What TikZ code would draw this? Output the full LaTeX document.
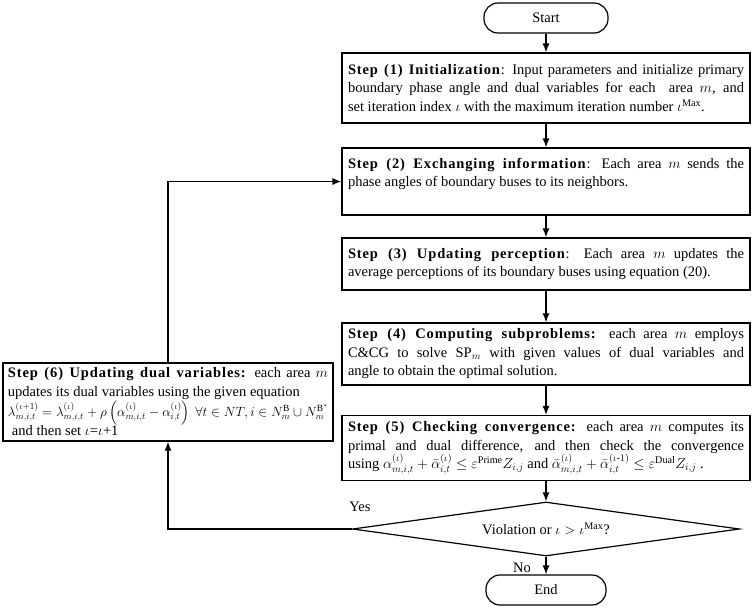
\documentclass[tikz,border=0pt]{standalone}
\usepackage{amsmath}
\usepackage{amssymb}
\usepackage{fontspec}
\setmainfont{Liberation Serif}[BoldFeatures={LetterSpace=6}]
\usetikzlibrary{shapes.geometric,arrows.meta}

\begin{document}
\begin{tikzpicture}[x=1pt,y=-1pt,
  font=\fontsize{14.5}{18.5}\selectfont,
  stepbox/.style={draw,line width=1.2pt,text width=396pt,align=justify,inner sep=6pt},
  termbox/.style={draw,line width=1.2pt,rounded corners=14pt,minimum width=124pt,minimum height=30pt},
  flow/.style={line width=1.2pt,-{Latex[length=9pt,width=7pt]}}]
\useasboundingbox (0,0) rectangle (754,607);

\node[termbox] (start) at (546,18) {Start};
\node[stepbox,minimum height=70pt] (s1) at (546,88)
  {\textbf{Step (1) Initialization}: Input parameters and initialize primary\linebreak
  boundary phase angle and dual variables for each \ area $m$, and\linebreak
  set iteration index $\iota$ with the maximum iteration number $\iota^{\mathrm{Max}}$.};
\node[stepbox,minimum height=67pt] (s2) at (546,181.5)
  {\textbf{Step (2) Exchanging information}: Each area $m$ sends the\linebreak
  phase angles of boundary buses to its neighbors.\\\mbox{}};
\node[stepbox,minimum height=52pt] (s3) at (546,264)
  {\textbf{Step (3) Updating perception}: Each area $m$ updates the\linebreak
  average perceptions of its boundary buses using equation (20).};
\node[stepbox,minimum height=60pt] (s4) at (546,354)
  {\textbf{Step (4) Computing subproblems:} each area $m$ employs\linebreak
  C\&CG to solve SP$_m$ with given values of dual variables and\linebreak
  angle to obtain the optimal solution.};
\node[stepbox,minimum height=63pt] (s5) at (546,448)
  {\textbf{Step (5) Checking convergence:} each area $m$ computes its\linebreak
  primal and dual difference, and then check the convergence\linebreak
  using $\alpha^{(\iota)}_{m,i,t}+\bar{\alpha}^{(\iota)}_{i,t}\le\varepsilon^{\mathrm{Prime}}Z_{i,j}$ and $\bar{\alpha}^{(\iota)}_{m,i,t}+\bar{\alpha}^{(\iota\text{-}1)}_{i,t}\le\varepsilon^{\mathrm{Dual}}Z_{i,j}$ .};
\node[draw,diamond,aspect=7.2,line width=1.2pt,minimum width=387pt,minimum height=54pt,inner sep=0pt] (check) at (546,529)
  {Violation or $\iota>\iota^{\mathrm{Max}}$?};
\node[termbox,minimum width=120pt] (end) at (546,590) {End};
\node[draw,line width=1.2pt,text width=320pt,align=justify,inner sep=5pt,minimum height=74pt] (s6) at (168,402)
  {\textbf{Step (6) Updating dual variables:} each area $m$\linebreak
  updates its dual variables using the given equation\\
  \resizebox{\linewidth}{!}{$\lambda^{(\iota+1)}_{m,i,t}=\lambda^{(\iota)}_{m,i,t}+\rho\left(\alpha^{(\iota)}_{m,i,t}-\alpha^{(\iota)}_{i,t}\right)\ \forall t\in NT,i\in N^{\mathrm{B}}_m\cup N^{\mathrm{B}^*}_m$}\\
  \hspace*{4pt}and then set $\iota$=$\iota$+1};

\draw[flow] (start) -- (s1);
\draw[flow] (s1) -- (s2);
\draw[flow] (s2) -- (s3);
\draw[flow] (s3) -- (s4);
\draw[flow] (s4) -- (s5);
\draw[flow] (s5) -- (check);
\draw[flow] (check) -- (end);
\draw[flow] (check.west) -| (s6.south);
\draw[flow] (s6.north) |- (s2.west);
\node at (360,507) {Yes};
\node at (522,568) {No};

\end{tikzpicture}
\end{document}
